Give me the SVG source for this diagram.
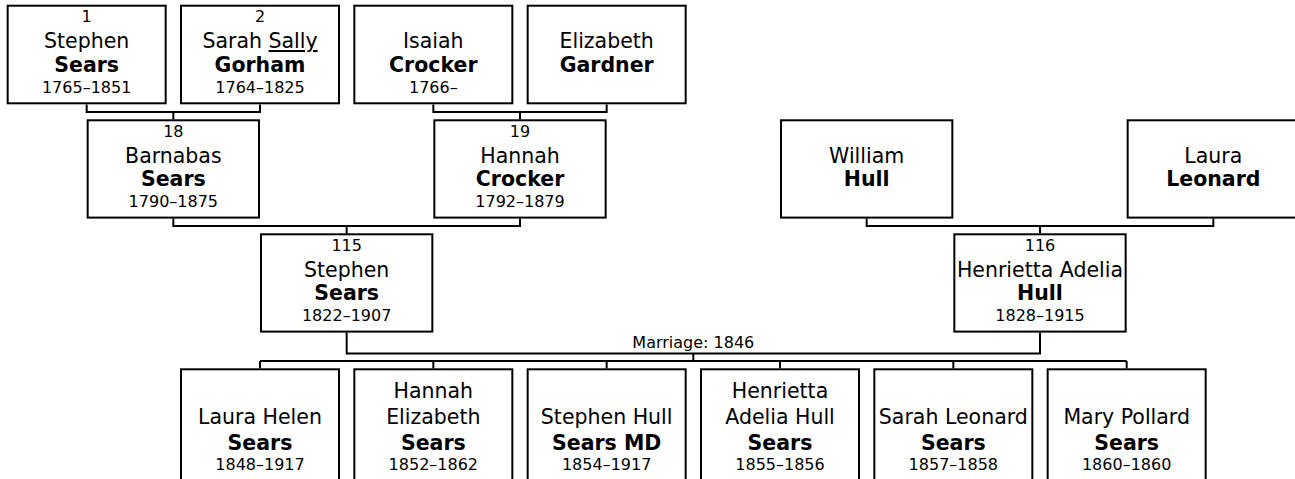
<svg xmlns="http://www.w3.org/2000/svg" width="1295" height="479" viewBox="0 0 1295 479">
<style>
rect.box{fill:#fff;stroke:#000;stroke-width:2}
text{font-family:"DejaVu Sans",Verdana,sans-serif;fill:#000;text-anchor:middle}
.num,.dt,.lbl{font-size:16px}
.nm{font-size:20.5px}
.sn{font-size:20.5px;font-weight:bold}
#connectors path{fill:none;stroke:#000;stroke-width:2}
</style>
<rect width="1295" height="479" fill="#fff"/>
<g id="connectors">
<path d="M86.67 104.5V112H260V104.5M173.33 112V119.5"/>
<path d="M433.33 104.5V112H606.67V104.5M520 112V119.5"/>
<path d="M173.33 218.5V226H520V218.5M346.67 226V233.5"/>
<path d="M866.67 218.5V226H1213.33V218.5M1040 226V233.5"/>
<path d="M346.67 332.5V353.5H1040V332.5M693.33 353.5V361M260 361H1126.67M260 361V368.5M433.33 361V368.5M606.67 361V368.5M780 361V368.5M953.33 361V368.5M1126.67 361V368.5"/>
<text class="lbl" x="693.33" y="348">Marriage: 1846</text>
</g>
<g id="p1"><rect class="box" x="7.67" y="5.7" width="158" height="97.6"/>
<text class="num" x="86.67" y="22.2">1</text><text class="nm" x="86.67" y="48">Stephen</text><text class="sn" x="86.67" y="71.7">Sears</text><text class="dt" x="86.67" y="92.7">1765–1851</text></g>
<g id="p2"><rect class="box" x="181" y="5.7" width="158" height="97.6"/>
<text class="num" x="260" y="22.2">2</text><text class="nm" x="260" y="48">Sarah <tspan text-decoration="underline">Sally</tspan></text><text class="sn" x="260" y="71.7">Gorham</text><text class="dt" x="260" y="92.7">1764–1825</text></g>
<g id="p3"><rect class="box" x="354.33" y="5.7" width="158" height="97.6"/>
<text class="nm" x="433.33" y="48">Isaiah</text><text class="sn" x="433.33" y="71.7">Crocker</text><text class="dt" x="433.33" y="92.7">1766–</text></g>
<g id="p4"><rect class="box" x="527.67" y="5.7" width="158" height="97.6"/>
<text class="nm" x="606.67" y="48">Elizabeth</text><text class="sn" x="606.67" y="71.7">Gardner</text></g>
<g id="p18"><rect class="box" x="87.67" y="120.3" width="171.33" height="97.3"/>
<text class="num" x="173.33" y="136.8">18</text><text class="nm" x="173.33" y="162.6">Barnabas</text><text class="sn" x="173.33" y="186.3">Sears</text><text class="dt" x="173.33" y="207.3">1790–1875</text></g>
<g id="p19"><rect class="box" x="434.33" y="120.3" width="171.33" height="97.3"/>
<text class="num" x="520" y="136.8">19</text><text class="nm" x="520" y="162.6">Hannah</text><text class="sn" x="520" y="186.3">Crocker</text><text class="dt" x="520" y="207.3">1792–1879</text></g>
<g id="pWH"><rect class="box" x="781" y="120.3" width="171.33" height="97.3"/>
<text class="nm" x="866.67" y="162.6">William</text><text class="sn" x="866.67" y="186.3">Hull</text></g>
<g id="pLL"><rect class="box" x="1127.67" y="120.3" width="171.33" height="97.3"/>
<text class="nm" x="1213.33" y="162.6">Laura</text><text class="sn" x="1213.33" y="186.3">Leonard</text></g>
<g id="p115"><rect class="box" x="261" y="234.3" width="171.33" height="97.3"/>
<text class="num" x="346.67" y="250.8">115</text><text class="nm" x="346.67" y="276.6">Stephen</text><text class="sn" x="346.67" y="300.3">Sears</text><text class="dt" x="346.67" y="321.3">1822–1907</text></g>
<g id="p116"><rect class="box" x="954.33" y="234.3" width="171.33" height="97.3"/>
<text class="num" x="1040" y="250.8">116</text><text class="nm" x="1040" y="276.6">Henrietta Adelia</text><text class="sn" x="1040" y="300.3">Hull</text><text class="dt" x="1040" y="321.3">1828–1915</text></g>
<g id="c1"><rect class="box" x="181" y="369.3" width="158" height="200"/>
<text class="nm" x="260" y="423.5">Laura Helen</text><text class="sn" x="260" y="449.5">Sears</text><text class="dt" x="260" y="469.5">1848–1917</text></g>
<g id="c2"><rect class="box" x="354.33" y="369.3" width="158" height="200"/>
<text class="nm" x="433.33" y="397.5">Hannah</text><text class="nm" x="433.33" y="423.5">Elizabeth</text><text class="sn" x="433.33" y="449.5">Sears</text><text class="dt" x="433.33" y="469.5">1852–1862</text></g>
<g id="c3"><rect class="box" x="527.67" y="369.3" width="158" height="200"/>
<text class="nm" x="606.67" y="423.5">Stephen Hull</text><text class="sn" x="606.67" y="449.5">Sears MD</text><text class="dt" x="606.67" y="469.5">1854–1917</text></g>
<g id="c4"><rect class="box" x="701" y="369.3" width="158" height="200"/>
<text class="nm" x="780" y="397.5">Henrietta</text><text class="nm" x="780" y="423.5">Adelia Hull</text><text class="sn" x="780" y="449.5">Sears</text><text class="dt" x="780" y="469.5">1855–1856</text></g>
<g id="c5"><rect class="box" x="874.33" y="369.3" width="158" height="200"/>
<text class="nm" x="953.33" y="423.5">Sarah Leonard</text><text class="sn" x="953.33" y="449.5">Sears</text><text class="dt" x="953.33" y="469.5">1857–1858</text></g>
<g id="c6"><rect class="box" x="1047.67" y="369.3" width="158" height="200"/>
<text class="nm" x="1126.67" y="423.5">Mary Pollard</text><text class="sn" x="1126.67" y="449.5">Sears</text><text class="dt" x="1126.67" y="469.5">1860–1860</text></g>
</svg>
